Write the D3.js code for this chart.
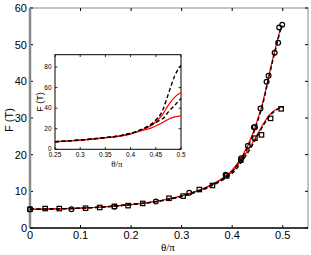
<!DOCTYPE html>
<html>
<head>
<meta charset="utf-8">
<script src="https://cdn.jsdelivr.net/npm/d3@7"></script>
<style>
  body { margin: 0; background: #fff; }
  text { font-family: "Liberation Sans", Arial, sans-serif; }
</style>
</head>
<body>
<div id="chart"></div>
<script>
// main plot: curves (theta/pi grid)
const lineTheta = [0, 0.05, 0.1, 0.15, 0.2, 0.25, 0.3, 0.35, 0.38, 0.4, 0.42, 0.44, 0.45, 0.46, 0.47, 0.48, 0.49, 0.495, 0.5];
const circRed = [5.1, 5.2, 5.4, 5.8, 6.4, 7.3, 8.8, 11.2, 13.5, 15.8, 19.6, 25.5, 29.5, 34, 40, 46, 51.5, 54, 55.2];
const circDash = [5.1, 5.2, 5.4, 5.8, 6.4, 7.2, 8.7, 11.1, 13.3, 15.5, 19.2, 25, 29, 33.5, 39.5, 45.5, 51, 53.8, 55];
const sqRed = [5.1, 5.2, 5.4, 5.8, 6.4, 7.3, 8.8, 11.1, 13.3, 15.3, 18.9, 23.2, 25.6, 28, 30.2, 31.7, 32.6, 32.9, 33];
const sqDash = [5.1, 5.2, 5.4, 5.8, 6.4, 7.2, 8.6, 10.9, 13, 14.9, 18.3, 22.6, 25.1, 27.6, 29.8, 31.4, 32.4, 32.8, 32.9];

// main plot: markers
const circTheta = [0, 0.082, 0.167, 0.249, 0.315, 0.387, 0.418, 0.431, 0.443, 0.445, 0.456, 0.468, 0.472, 0.484, 0.491, 0.493, 0.499];
const circF = [5.1, 5.1, 5.8, 7.2, 9.6, 14.5, 19.0, 22.4, 27.5, 27.5, 32.6, 39.9, 41.5, 47.8, 50.5, 54.7, 55.4];
const sqTheta = [0, 0.03, 0.058, 0.11, 0.138, 0.167, 0.194, 0.223, 0.275, 0.303, 0.335, 0.361, 0.389, 0.417, 0.445, 0.458, 0.476, 0.497];
const sqF = [5.1, 5.3, 5.3, 5.4, 5.6, 5.9, 6.1, 6.7, 8.1, 8.7, 10.5, 11.6, 14.2, 18.5, 24.5, 25.4, 29.9, 32.5];

// inset curves
const insetTheta = [0.25, 0.3, 0.35, 0.38, 0.4, 0.42, 0.43, 0.44, 0.45, 0.46, 0.465, 0.475, 0.488, 0.5];
const insetDashHi = [7.4, 9, 11.4, 13.3, 15.5, 19, 21.3, 24.3, 28.5, 34.5, 39.7, 54, 72, 81.6];
const insetDashLo = [7.4, 9, 11.4, 13.3, 15.5, 18.8, 20.8, 23.2, 26, 28.8, 30.2, 36.4, 43, 49.4];
const insetRedHi = [7.4, 9, 11.3, 13.1, 15.2, 18.5, 20.4, 22.9, 26.8, 31.8, 35, 43, 51, 55.2];
const insetRedLo = [7.4, 9, 11.2, 12.9, 14.8, 17.8, 19.2, 20.6, 22.6, 25, 26.5, 29.3, 31.6, 32.5];

const mainXTicks = [0, 0.1, 0.2, 0.3, 0.4, 0.5];
const mainYTicks = [0, 10, 20, 30, 40, 50, 60];
const insetXTicks = [0.25, 0.3, 0.35, 0.4, 0.45, 0.5];
const insetYTicks = [0, 20, 40, 60, 80];

const W = 311, H = 255;
const svg = d3.select("#chart").append("svg").attr("width", W).attr("height", H);

// scales
const x = d3.scaleLinear().domain([0, 0.55]).range([30, 308]);
const y = d3.scaleLinear().domain([0, 60]).range([228, 8]);
const xi = d3.scaleLinear().domain([0.25, 0.5]).range([55, 181]);
const yi = d3.scaleLinear().domain([0, 92]).range([149.3, 54.7]);

function zip(xs, ys) { return xs.map((t, i) => [t, ys[i]]); }

// main frame
svg.append("rect").attr("x", 30).attr("y", 8).attr("width", 278).attr("height", 220)
  .attr("fill", "none").attr("stroke", "#888").attr("stroke-width", 1);

// main ticks (inward, both sides)
mainXTicks.forEach(t => {
  svg.append("line").attr("x1", x(t)).attr("x2", x(t)).attr("y1", 228).attr("y2", 225).attr("stroke", "#000");
  svg.append("line").attr("x1", x(t)).attr("x2", x(t)).attr("y1", 8).attr("y2", 11).attr("stroke", "#000");
  svg.append("text").attr("x", x(t)).attr("y", 239).attr("text-anchor", "middle")
    .style("font-size", "11px").text(t === 0 ? "0" : t.toFixed(1));
});
mainYTicks.forEach(v => {
  svg.append("line").attr("x1", 30).attr("x2", 33).attr("y1", y(v)).attr("y2", y(v)).attr("stroke", "#000");
  svg.append("line").attr("x1", 308).attr("x2", 305).attr("y1", y(v)).attr("y2", y(v)).attr("stroke", "#000");
  svg.append("text").attr("x", 27).attr("y", y(v) + 4).attr("text-anchor", "end")
    .style("font-size", "11px").text(v);
});
svg.append("line").attr("x1", 30).attr("x2", 30).attr("y1", 8).attr("y2", 228)
  .attr("stroke", "#888").attr("stroke-width", 2.5);
svg.append("line").attr("x1", 30).attr("x2", 308).attr("y1", 228).attr("y2", 228)
  .attr("stroke", "#111").attr("stroke-width", 1.5);

svg.append("text").attr("transform", "translate(13,120) rotate(-90)").attr("text-anchor", "middle")
  .style("font-size", "11px").text("F (T)");
svg.append("text").attr("x", 168).attr("y", 251).attr("text-anchor", "middle")
  .style("font-size", "11px").style("font-family", "'Liberation Serif', serif").text("θ/π");

// main curves
const line = d3.line().x(d => x(d[0])).y(d => y(d[1])).curve(d3.curveMonotoneX);
[circRed, sqRed].forEach(s => {
  svg.append("path").datum(zip(lineTheta, s)).attr("fill", "none")
    .attr("stroke", "#f00").attr("stroke-width", 1.2).attr("d", line);
});
[circDash, sqDash].forEach(s => {
  svg.append("path").datum(zip(lineTheta, s)).attr("fill", "none")
    .attr("stroke", "#000").attr("stroke-width", 1.4).attr("stroke-dasharray", "4,2.5").attr("d", line);
});

// markers
svg.selectAll("circle.m").data(zip(circTheta, circF)).join("circle")
  .attr("cx", d => x(d[0])).attr("cy", d => y(d[1])).attr("r", 2.4)
  .attr("fill", "none").attr("stroke", "#000").attr("stroke-width", 1.2);
svg.selectAll("rect.m").data(zip(sqTheta, sqF)).join("rect")
  .attr("x", d => x(d[0]) - 2.2).attr("y", d => y(d[1]) - 2.2).attr("width", 4.4).attr("height", 4.4)
  .attr("fill", "none").attr("stroke", "#000").attr("stroke-width", 1.2);

// inset
const ins = svg.append("g");
ins.append("rect").attr("x", 55).attr("y", 54.7).attr("width", 126).attr("height", 94.6)
  .attr("fill", "#fff").attr("stroke", "#000").attr("stroke-width", 1);
insetXTicks.forEach(t => {
  ins.append("line").attr("x1", xi(t)).attr("x2", xi(t)).attr("y1", 149.3).attr("y2", 147).attr("stroke", "#000").attr("stroke-width", 0.8);
  ins.append("line").attr("x1", xi(t)).attr("x2", xi(t)).attr("y1", 54.7).attr("y2", 57).attr("stroke", "#000").attr("stroke-width", 0.8);
  ins.append("text").attr("x", xi(t)).attr("y", 157).attr("text-anchor", "middle")
    .style("font-size", "6.5px").text(String(t));
});
insetYTicks.forEach(v => {
  ins.append("line").attr("x1", 55).attr("x2", 57.5).attr("y1", yi(v)).attr("y2", yi(v)).attr("stroke", "#000").attr("stroke-width", 0.8);
  ins.append("line").attr("x1", 181).attr("x2", 178.5).attr("y1", yi(v)).attr("y2", yi(v)).attr("stroke", "#000").attr("stroke-width", 0.8);
  ins.append("text").attr("x", 51.5).attr("y", yi(v) + (v === 0 ? 1.2 : 2.2)).attr("text-anchor", "end")
    .style("font-size", "6.5px").text(v);
});
ins.append("text").attr("transform", "translate(43,102) rotate(-90)").attr("text-anchor", "middle")
  .style("font-size", "9px").text("F (T)");
ins.append("text").attr("x", 117).attr("y", 167).attr("text-anchor", "middle")
  .style("font-size", "9px").style("font-family", "'Liberation Serif', serif").text("θ/π");

const lineI = d3.line().x(d => xi(d[0])).y(d => yi(d[1])).curve(d3.curveMonotoneX);
[insetRedHi, insetRedLo].forEach(s => {
  ins.append("path").datum(zip(insetTheta, s)).attr("fill", "none")
    .attr("stroke", "#f00").attr("stroke-width", 1.2).attr("d", lineI);
});
[insetDashHi, insetDashLo].forEach(s => {
  ins.append("path").datum(zip(insetTheta, s)).attr("fill", "none")
    .attr("stroke", "#000").attr("stroke-width", 1.4).attr("stroke-dasharray", "4,2.5").attr("d", lineI);
});
</script>
</body>
</html>
